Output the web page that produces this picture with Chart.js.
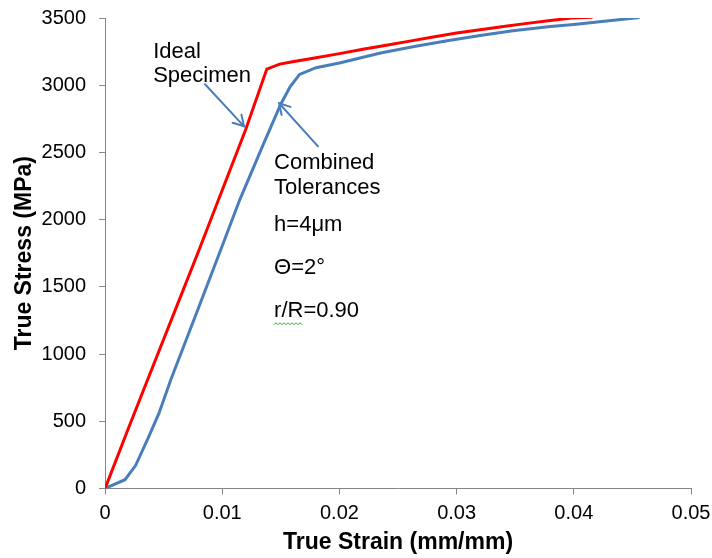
<!DOCTYPE html>
<html>

<head>
    <meta charset="utf-8">
    <title>True Stress vs True Strain</title>
    <script src="https://cdn.jsdelivr.net/npm/chart.js"></script>
    <style>
        body {
            margin: 0;
            background-color: #fff;
        }

        #stressChart {
            display: block;
        }
    </style>
</head>

<body>
    <canvas id="stressChart" width="712" height="558"></canvas>

    <script>
        // Strain (mm/mm) / stress (MPa) pairs for both curves
        const idealStrain = [0, 0.002, 0.004, 0.006, 0.008, 0.010, 0.012, 0.0138, 0.0149, 0.016, 0.018, 0.020,
            0.022, 0.024, 0.026, 0.028, 0.030, 0.032, 0.034, 0.036, 0.038, 0.0398, 0.0416];
        const idealStress = [0, 450, 890, 1330, 1770, 2220, 2670, 3120, 3157, 3175, 3205, 3235,
            3268, 3298, 3328, 3358, 3388, 3413, 3436, 3460, 3481, 3500, 3506];

        const combinedStrain = [0, 0.0017, 0.0026, 0.0037, 0.0046, 0.0056, 0.008, 0.010, 0.0115, 0.0135, 0.0150,
            0.0158, 0.0166, 0.018, 0.020, 0.0235, 0.0265, 0.0292, 0.032, 0.0348, 0.038, 0.040, 0.042, 0.044, 0.0456];
        const combinedStress = [0, 65, 170, 380, 560, 806, 1350, 1805, 2149, 2560, 2860,
            2990, 3080, 3130, 3165, 3239, 3290, 3331, 3370, 3405, 3436, 3452, 3470, 3488, 3504];

        const xTicks = [0, 0.01, 0.02, 0.03, 0.04, 0.05];
        const yTicks = [0, 500, 1000, 1500, 2000, 2500, 3000, 3500];

        // callout text, anchored in data units: [strain, stress, text]
        const idealNote = [[0.0041, 3247, 'Ideal'], [0.0041, 3068, 'Specimen']];
        const combinedNote = [[0.01442, 2418, 'Combined'], [0.01442, 2239, 'Tolerances'],
            [0.01442, 1963, 'h=4μm'], [0.01442, 1642, 'Θ=2°'], [0.01442, 1318, 'r/R=0.90']];
        // arrows: [fromStrain, fromStress, toStrain, toStress]
        const arrows = [[0.00853, 3007, 0.01186, 2694], [0.01817, 2545, 0.01485, 2866]];

        const RED = '#FF0000';
        const BLUE = '#4A7EBB';
        const AXIS = '#868686';
        const FONT = '"Liberation Sans", Arial, sans-serif';

        function toPoints(xs, ys) {
            return xs.map((x, i) => ({ x: x, y: ys[i] }));
        }

        const calloutPlugin = {
            id: 'callouts',
            afterDatasetsDraw(chart) {
                const ctx = chart.ctx;
                const xs = chart.scales.x;
                const ys = chart.scales.y;
                ctx.save();
                ctx.font = '22px ' + FONT;
                ctx.fillStyle = '#000';
                ctx.textBaseline = 'middle';
                ctx.textAlign = 'left';
                idealNote.concat(combinedNote).forEach(n => {
                    ctx.fillText(n[2], xs.getPixelForValue(n[0]), ys.getPixelForValue(n[1]));
                });

                // spell-check squiggle under "r/R"
                const last = combinedNote[combinedNote.length - 1];
                const sx = xs.getPixelForValue(last[0]);
                const sy = ys.getPixelForValue(last[1]) + 13;
                const sw = ctx.measureText('r/R').width;
                ctx.strokeStyle = '#3BA33B';
                ctx.lineWidth = 1;
                ctx.beginPath();
                for (let i = 0; i <= sw; i += 2) {
                    const yy = sy + ((i / 2) % 2 === 0 ? 0.5 : -1.5);
                    if (i === 0) ctx.moveTo(sx + i, yy); else ctx.lineTo(sx + i, yy);
                }
                ctx.stroke();

                // arrows with open heads
                ctx.strokeStyle = BLUE;
                ctx.lineWidth = 2;
                ctx.lineCap = 'round';
                arrows.forEach(a => {
                    const x1 = xs.getPixelForValue(a[0]), y1 = ys.getPixelForValue(a[1]);
                    const x2 = xs.getPixelForValue(a[2]), y2 = ys.getPixelForValue(a[3]);
                    const ang = Math.atan2(y2 - y1, x2 - x1);
                    const len = 12, spread = Math.PI / 6;
                    ctx.beginPath();
                    ctx.moveTo(x1, y1);
                    ctx.lineTo(x2, y2);
                    ctx.moveTo(x2 - len * Math.cos(ang - spread), y2 - len * Math.sin(ang - spread));
                    ctx.lineTo(x2, y2);
                    ctx.lineTo(x2 - len * Math.cos(ang + spread), y2 - len * Math.sin(ang + spread));
                    ctx.stroke();
                });
                ctx.restore();
            }
        };

        const ctx1 = document.getElementById('stressChart').getContext('2d');
        new Chart(ctx1, {
            type: 'line',
            data: {
                datasets: [{
                    label: 'Ideal Specimen',
                    data: toPoints(idealStrain, idealStress),
                    borderColor: RED,
                    borderWidth: 3,
                    pointRadius: 0,
                    tension: 0
                }, {
                    label: 'Combined Tolerances',
                    data: toPoints(combinedStrain, combinedStress),
                    borderColor: BLUE,
                    borderWidth: 3,
                    pointRadius: 0,
                    tension: 0
                }]
            },
            options: {
                responsive: false,
                animation: false,
                devicePixelRatio: 1,
                layout: {
                    padding: { top: 0, right: 0, bottom: 2, left: 0 }
                },
                plugins: {
                    legend: { display: false },
                    tooltip: { enabled: false }
                },
                scales: {
                    x: {
                        type: 'linear',
                        min: 0,
                        max: 0.05,
                        afterBuildTicks: scale => {
                            scale.ticks = xTicks.map(v => ({ value: v }));
                        },
                        afterFit: scale => {
                            scale.paddingRight = 21;
                        },
                        ticks: {
                            color: '#000',
                            padding: 7,
                            maxRotation: 0,
                            font: { family: FONT, size: 20 },
                            callback: v => String(v)
                        },
                        grid: { drawOnChartArea: false, drawTicks: true, tickLength: 6, color: AXIS },
                        border: { color: AXIS, width: 1 },
                        title: {
                            display: true,
                            text: 'True Strain (mm/mm)',
                            color: '#000',
                            padding: { top: -4, bottom: 0 },
                            font: { family: FONT, size: 23, weight: 'bold' }
                        }
                    },
                    y: {
                        type: 'linear',
                        min: 0,
                        max: 3500,
                        afterBuildTicks: scale => {
                            scale.ticks = yTicks.map(v => ({ value: v }));
                        },
                        afterFit: scale => {
                            scale.paddingTop = 18;
                        },
                        ticks: {
                            color: '#000',
                            padding: 13,
                            font: { family: FONT, size: 20 },
                            callback: v => String(v)
                        },
                        grid: { drawOnChartArea: false, drawTicks: true, tickLength: 6, color: AXIS },
                        border: { color: AXIS, width: 1 },
                        title: {
                            display: true,
                            text: 'True Stress (MPa)',
                            color: '#000',
                            padding: { top: 11, bottom: -10 },
                            font: { family: FONT, size: 23, weight: 'bold' }
                        }
                    }
                }
            },
            plugins: [calloutPlugin]
        });
    </script>
</body>

</html>
